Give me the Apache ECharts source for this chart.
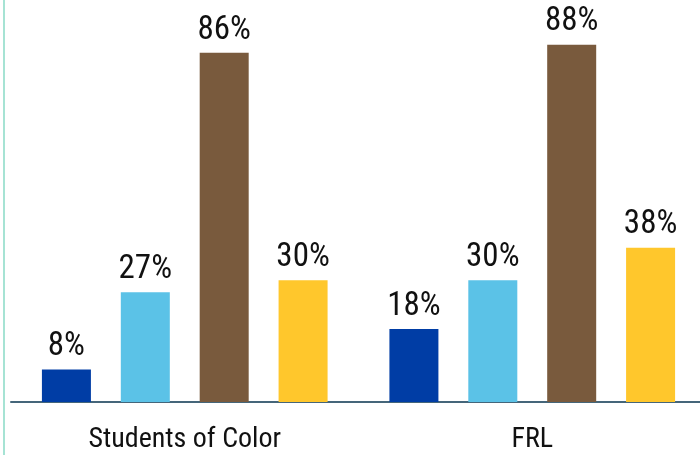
<!DOCTYPE html>
<html>
<head>
<meta charset="utf-8">
<script src="https://cdn.jsdelivr.net/npm/echarts@6/dist/echarts.min.js"></script>
<style>
  html, body { margin: 0; padding: 0; background: #fff; overflow: hidden; }
  #wrap { width: 700px; height: 455px; position: relative; overflow: hidden; }
  #chart { width: 712px; height: 455px; position: absolute; left: 0; top: 0; }
  #edge { position: absolute; left: 3px; top: 0; width: 2px; height: 455px; background: #a6e3d4; }
</style>
</head>
<body>
<div id="wrap">
  <div id="chart"></div>
  <div id="edge"></div>
</div>
<script>
// Categories and the four groups of percentages
const categories = ['Students of Color', 'FRL'];
const seriesA = [8, 18];
const seriesB = [27, 30];
const seriesC = [86, 88];
const seriesD = [30, 38];

const colors = ['#003DA5', '#5BC2E7', '#795A3D', '#FFC72C'];
const fontFamily = 'Roboto, "DejaVu Sans Condensed", sans-serif';

const chart = echarts.init(document.getElementById('chart'));

function bar(name, data, color) {
  return {
    name: name,
    type: 'bar',
    data: data,
    barWidth: 49,
    barGap: '61%',
    itemStyle: { color: color },
    label: {
      show: true,
      position: 'top',
      distance: 6,
      formatter: '{c}%',
      color: '#111',
      fontSize: 33,
      fontWeight: 'condensed',
      fontFamily: fontFamily
    }
  };
}

chart.setOption({
  animation: false,
  grid: { left: 11, right: 6, top: 0, height: 402, containLabel: false },
  xAxis: {
    type: 'category',
    data: categories,
    axisLine: { show: true, lineStyle: { color: '#45667a', width: 2 } },
    axisTick: { show: false },
    axisLabel: {
      color: '#111',
      fontSize: 28,
      fontWeight: 'condensed',
      fontFamily: fontFamily,
      margin: 24
    }
  },
  yAxis: {
    type: 'value',
    min: 0,
    max: 99,
    show: false
  },
  series: [
    bar('A', seriesA, colors[0]),
    bar('B', seriesB, colors[1]),
    bar('C', seriesC, colors[2]),
    bar('D', seriesD, colors[3])
  ]
});
</script>
</body>
</html>
